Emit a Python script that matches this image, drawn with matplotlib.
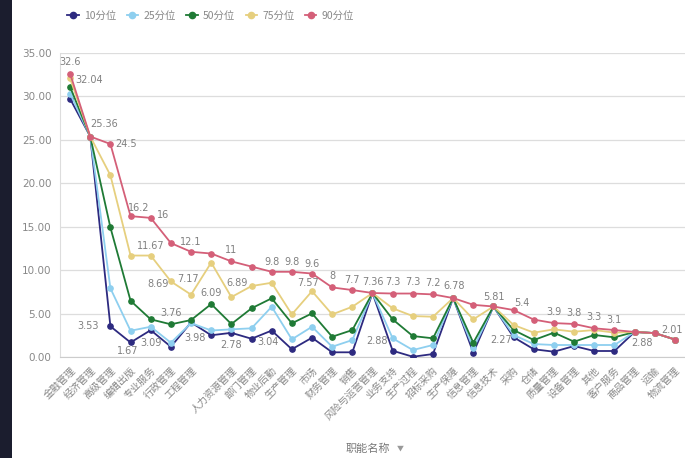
import matplotlib
matplotlib.use('Agg')
import matplotlib.pyplot as plt
from matplotlib.patches import Rectangle
from matplotlib.lines import Line2D

plt.rcParams['font.family'] = ['Noto Sans CJK SC', 'DejaVu Sans']

# category names (one label is blank in the reference)
categories = ['金融管理', '经济管理', '高级管理', '编辑出版', '专业服务', '行政管理', '工程管理', '',
              '人力资源管理', '部门管理', '物业后勤', '生产管理', '市场', '财务管理', '销售',
              '风险与运营管理', '业务支持', '生产过程', '招标采购', '生产保障', '信息管理', '信息技术',
              '采购', '仓储', '质量管理', '设备管理', '其他', '客户服务', '商品管理', '运输', '物流管理']

p10 = [29.7, 25.36, 3.53, 1.67, 3.09, 1.18, 3.98, 2.5, 2.78, 2.1, 3.04, 0.89, 2.22, 0.54, 0.54,
       7.36, 0.72, 0.03, 0.34, 6.78, 0.5, 5.81, 2.27, 0.89, 0.61, 1.26, 0.69, 0.69, 2.88, 2.75, 2.01]
p25 = [30.3, 25.36, 7.9, 3.02, 3.48, 1.64, 3.9, 3.05, 3.18, 3.3, 5.78, 2.03, 3.48, 1.18, 1.95,
       7.36, 2.15, 0.8, 1.38, 6.78, 1.0, 5.81, 2.53, 1.49, 1.38, 1.38, 1.38, 1.38, 2.88, 2.75, 2.01]
p50 = [31.07, 25.36, 14.9, 6.47, 4.33, 3.76, 4.25, 6.09, 3.79, 5.6, 6.75, 3.87, 5.02, 2.33, 3.1,
       7.36, 4.33, 2.41, 2.15, 6.78, 1.64, 5.81, 3.1, 1.95, 2.8, 1.76, 2.53, 2.26, 2.88, 2.75, 2.01]
p75 = [32.04, 25.36, 20.9, 11.67, 11.67, 8.69, 7.17, 10.86, 6.89, 8.16, 8.54, 4.9, 7.57, 4.9, 5.78,
       7.36, 5.6, 4.71, 4.63, 6.78, 4.33, 5.81, 3.68, 2.8, 3.18, 2.91, 3.1, 2.8, 2.88, 2.75, 2.01]
p90 = [32.6, 25.36, 24.5, 16.2, 16.0, 13.1, 12.1, 11.9, 11.0, 10.4, 9.8, 9.8, 9.6, 8.0, 7.7,
       7.36, 7.3, 7.3, 7.2, 6.78, 6.0, 5.81, 5.4, 4.3, 3.9, 3.8, 3.3, 3.1, 2.88, 2.75, 2.01]

series_names = ['10分位', '25分位', '50分位', '75分位', '90分位']
series_values = [p10, p25, p50, p75, p90]
colors = ['#2d2a80', '#8ecfef', '#1f7a35', '#e6cf7e', '#d45f78']

# data labels: (series index, category index, text, dx pt, dy pt)
point_labels = [
    (4, 0, '32.6', 0, 8), (3, 0, '32.04', 14, -1), (4, 1, '25.36', 10, 9), (4, 2, '24.5', 11, 0),
    (0, 2, '3.53', -16, 0), (4, 3, '16.2', 6, 6), (4, 4, '16', 9, 2), (3, 4, '11.67', 0, 7),
    (4, 6, '12.1', 0, 7), (4, 8, '11', 0, 8), (3, 5, '8.69', -9, -2), (3, 6, '7.17', -2, 11),
    (2, 7, '6.09', 0, 8), (3, 8, '6.89', 4, 10), (2, 5, '3.76', 0, 8), (0, 3, '1.67', -2, -6),
    (0, 4, '3.09', 0, -9), (0, 6, '3.98', 3, -11), (0, 8, '2.78', 0, -9), (0, 10, '3.04', -3, -8),
    (4, 10, '9.8', 0, 7), (4, 11, '9.8', 0, 7), (4, 12, '9.6', 0, 7), (3, 12, '7.57', -3, 6),
    (4, 13, '8', 0, 8), (4, 14, '7.7', 0, 7), (4, 15, '7.36', 0, 8), (4, 16, '7.3', 0, 8),
    (4, 17, '7.3', 0, 8), (4, 18, '7.2', 0, 8), (0, 16, '2.88', -11, 7), (4, 19, '6.78', 1, 9),
    (4, 21, '5.81', 0, 7), (4, 22, '5.4', 6, 5), (0, 22, '2.27', -9, -2), (4, 24, '3.9', 0, 8),
    (4, 25, '3.8', 0, 8), (4, 26, '3.3', 0, 8), (4, 27, '3.1', 0, 7), (4, 28, '2.88', 5, -8),
    (4, 30, '2.01', -2, 7),
]

fig = plt.figure(figsize=(6.85, 4.58), dpi=100, facecolor='#1b1d2e')
bg = Rectangle((12 / 685, 0), 1, 1, transform=fig.transFigure,
               facecolor='white', edgecolor='none', zorder=-10)
fig.patches.append(bg)

ax = fig.add_axes([60 / 685, 101 / 458, 625 / 685, 304.3 / 458])
ax.set_facecolor('white')

x = list(range(len(categories)))
for vals, name, c in zip(series_values, series_names, colors):
    ax.plot(x, vals, color=c, linewidth=1.3, marker='o', markersize=3.8, label=name, zorder=3)

for si, ci, txt, dx, dy in point_labels:
    ax.annotate(txt, (ci, series_values[si][ci]), xytext=(dx, dy), textcoords='offset points',
                ha='center', va='center', fontsize=7, color='#808080',
                family='DejaVu Sans', zorder=5, annotation_clip=False)

ax.set_xlim(-0.5, len(categories) - 0.5)
ax.set_ylim(0, 35)
ax.set_yticks([0, 5, 10, 15, 20, 25, 30, 35])
ax.set_yticklabels([f'{v:.2f}' for v in [0, 5, 10, 15, 20, 25, 30, 35]],
                   fontsize=7.5, color='#888888', family='DejaVu Sans')
ax.set_xticks(x)
ax.set_xticklabels(categories, rotation=45, ha='right', rotation_mode='anchor',
                   fontsize=7.2, color='#888888')
ax.tick_params(axis='both', length=0, pad=6)
ax.grid(axis='y', color='#dddddd', linewidth=0.9)
ax.set_axisbelow(True)
for side in ['top', 'right']:
    ax.spines[side].set_visible(False)
ax.spines['left'].set_color('#dddddd')
ax.spines['bottom'].set_color('#cccccc')

handles = [Line2D([0], [0], color=c, marker='o', markersize=4.5, linewidth=1.3) for c in colors]
fig.legend(handles, series_names, loc='center left', bbox_to_anchor=(58 / 685, 1 - 16 / 458),
           ncol=5, frameon=False, fontsize=7.5, handlelength=1.1, handletextpad=0.5,
           columnspacing=1.0, labelcolor='#888888')

fig.text(368 / 685, 1 - 449 / 458, '职能名称', ha='center', va='center',
         fontsize=8, color='#777777')
fig.text(400 / 685, 1 - 449 / 458, '▼', ha='center', va='center',
         fontsize=5, color='#999999')

plt.savefig('out.png', dpi=100, facecolor=fig.get_facecolor())
